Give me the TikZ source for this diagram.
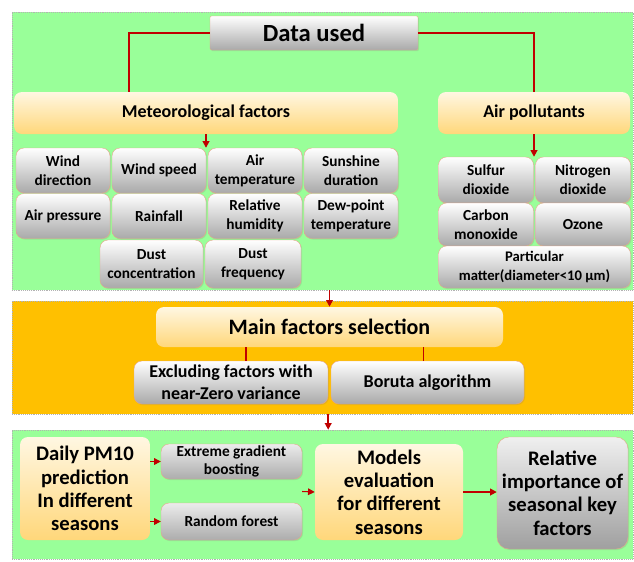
\documentclass[tikz,border=0pt]{standalone}
\usepackage{fontspec}
\setmainfont{Carlito}
\usetikzlibrary{arrows.meta,calc,shadows}

\definecolor{panelgreen}{HTML}{99FF99}
\definecolor{panelorange}{HTML}{FFC000}
\definecolor{linkred}{HTML}{C00000}
\definecolor{creamtop}{HTML}{FFF7E2}
\definecolor{creambot}{HTML}{FFD77A}
\definecolor{greybot}{HTML}{A9A9A9}
\definecolor{rimorange}{HTML}{E6A58A}

\tikzset{boxsize/.style 2 args={minimum width=#1*0.75pt, minimum height=#2*0.75pt}}
\tikzstyle{panel}=[draw=gray!60, densely dotted, inner sep=0pt]
\tikzstyle{yellowbox}=[rounded corners=6pt, top color=creamtop, bottom color=creambot, align=center, inner sep=1pt]
\tikzstyle{greybox}=[rounded corners=6pt, top color=white, bottom color=greybot, draw=rimorange, line width=0.3pt, align=center, inner sep=1pt, drop shadow={opacity=0.2, shadow xshift=0.8pt, shadow yshift=-0.8pt}]
\tikzstyle{item}=[greybox, font=\bfseries\fontsize{11.5}{14.5}\selectfont]
\tikzstyle{link}=[draw, line width=1.2pt, linkred, -]
\tikzstyle{arrow}=[draw, line width=1.2pt, linkred, -{Triangle[length=5pt,width=5pt]}]

\begin{document}
\begin{tikzpicture}[x=0.75pt, y=-0.75pt]
    \fill[white] (0,0) rectangle (634,561);
    \useasboundingbox (0,0) rectangle (634,561);
    % background panels
    \node[panel, fill=panelgreen, boxsize={621}{278}] (inputs) at (322.5,151) {};
    \node[panel, fill=panelorange, boxsize={621}{113}] (select) at (322.5,357.5) {};
    \node[panel, fill=panelgreen, boxsize={621}{129}] (modelling) at (322.5,494.5) {};

    % data sources
    \node[greybox, rounded corners=1pt, boxsize={208}{34}, font=\bfseries\fontsize{18.5}{22}\selectfont] (data) at (314,33) {Data used};
    \node[yellowbox, boxsize={384}{42}, font=\bfseries\fontsize{13.5}{16}\selectfont] (meteo) at (206,113) {Meteorological factors};
    \node[yellowbox, boxsize={192}{42}, font=\bfseries\fontsize{13.5}{16}\selectfont] (pollut) at (534,113) {Air pollutants};

    \foreach \pos/\name/\w/\h/\txt in {{(63,170.5)/wdir/94/45/Wind\\direction}, {(159,170.5)/wspeed/94/45/Wind speed},
        {(255,170.5)/airtemp/94/45/Air\\temperature}, {(351,170.5)/sun/94/45/Sunshine\\duration},
        {(63,216)/airpres/94/45/Air pressure}, {(159,216)/rain/94/45/Rainfall},
        {(255,216)/humid/94/45/Relative\\humidity}, {(351,216)/dew/94/45/Dew-point\\temperature},
        {(151.5,264)/dconc/103/48/Dust\\concentration}, {(253,264)/dfreq/96/48/Dust\\frequency},
        {(486,180)/so2/95/46/Sulfur\\dioxide}, {(583,180)/no2/95/46/Nitrogen\\dioxide},
        {(486,224.5)/co/95/43/Carbon\\monoxide}, {(583,224.5)/ozone/95/43/Ozone}}
        \node[item, boxsize={\w}{\h}] (\name) at \pos {\txt};
    \node[item, boxsize={192}{42}, font=\bfseries\fontsize{11}{14}\selectfont] (pm) at (534.5,267) {Particular\\matter(diameter<10 µm)};

    \path[link] (data.west) -| ($(meteo.north west)!0.3!(meteo.north east)$);
    \path[link] (data.east) -| (pollut.north);
    \path[arrow] (meteo.south) -- (meteo.south |- wspeed.north);
    \path[arrow] (pollut.south) -- (pollut.south |- so2.north);

    % factor selection
    \node[yellowbox, boxsize={347}{40}, font=\bfseries\fontsize{16.5}{19}\selectfont] (main) at (329.5,327) {Main factors selection};
    \node[greybox, boxsize={194}{43}, font=\bfseries\fontsize{13.5}{16.5}\selectfont] (nzv) at (231,382.5) {Excluding factors with\\near-Zero variance};
    \node[greybox, boxsize={193}{43}, font=\bfseries\fontsize{13.5}{16.5}\selectfont] (boruta) at (427.5,382.5) {Boruta algorithm};

    \path[arrow] (main.north |- inputs.south) -- (main.north);
    \path[link] ($(main.south west)!0.26!(main.south east)$) coordinate (m1) -- (m1 |- nzv.north);
    \path[link] ($(main.south west)!0.77!(main.south east)$) coordinate (m2) -- (m2 |- boruta.north);
    \path[arrow] (nzv.east |- select.south) -- (nzv.east |- modelling.north);

    % modelling
    \node[yellowbox, boxsize={130}{103}, font=\bfseries\fontsize{15.5}{17.5}\selectfont] (daily) at (85,488.5) {Daily PM10\\prediction\\In different\\seasons};
    \node[greybox, top color=gray!15, bottom color=gray!65, inner sep=0pt, boxsize={141}{35}, font=\bfseries\fontsize{11.5}{13}\selectfont] (xgb) at (231.5,461.5) {Extreme gradient\\boosting};
    \node[greybox, top color=gray!15, bottom color=gray!65, boxsize={141}{37}, font=\bfseries\fontsize{11.5}{14}\selectfont] (rf) at (231.5,521.5) {Random forest};
    \node[yellowbox, boxsize={148}{96}, font=\bfseries\fontsize{15.5}{17.5}\selectfont] (models) at (389,492) {Models\\evaluation\\for different\\seasons};
    \node[greybox, top color=gray!12, bottom color=gray!75, rounded corners=9pt, boxsize={131}{112}, font=\bfseries\fontsize{15.5}{17.5}\selectfont] (relimp) at (562.5,493) {Relative\\importance of\\seasonal key\\factors};

    \path[arrow, line width=0.8pt] (daily.east |- xgb) -- (xgb.west);
    \path[arrow, line width=0.8pt] (daily.east |- rf) -- (rf.west);
    \path[arrow, line width=0.8pt] ($(xgb.east)!0.5!(rf.east)$) -- (models.west);
    \path[arrow, line width=2pt] (models.east) -- (models.east -| relimp.west);
\end{tikzpicture}
\end{document}
